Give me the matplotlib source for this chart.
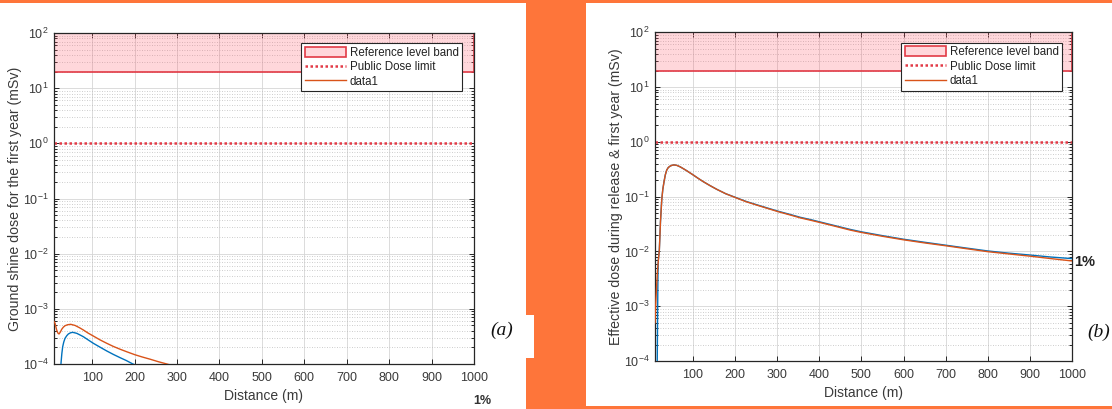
import matplotlib
matplotlib.use("Agg")
import matplotlib.pyplot as plt
from matplotlib.patches import Rectangle
from matplotlib.ticker import FixedLocator, NullFormatter, LogFormatterSciNotation
import numpy as np

plt.rcParams['font.family'] = ['Liberation Sans', 'DejaVu Sans']
plt.rcParams['mathtext.fontset'] = 'custom'
plt.rcParams['mathtext.rm'] = 'Liberation Sans'
plt.rcParams['mathtext.it'] = 'Liberation Sans:italic'
plt.rcParams['mathtext.bf'] = 'Liberation Sans:bold'

# ---------------- data ----------------
x_ticks = [100, 200, 300, 400, 500, 600, 700, 800, 900, 1000]
y_ticks = [1e-4, 1e-3, 1e-2, 1e-1, 1e0, 1e1, 1e2]
x_limits = (10, 1000)
y_limits = (1e-4, 1e2)

band_low, band_high = 20, 100
public_dose_limit = 1.0

# panel (a): ground shine dose
a_orange_x = [10, 12.4, 16.3, 19, 21.8, 25, 28.2, 32, 36, 42, 49.4, 59.6, 70, 79.3, 90,
              102.8, 118, 134.5, 150, 166, 183, 201, 218, 236.8, 256, 276, 300]
a_orange_y = [5.9e-4, 5.47e-4, 4.13e-4, 3.65e-4, 3.5e-4, 3.8e-4, 4.26e-4, 4.65e-4, 4.94e-4,
              5.15e-4, 5.24e-4, 5.0e-4, 4.55e-4, 4.13e-4, 3.65e-4, 3.21e-4, 2.75e-4,
              2.37e-4, 2.08e-4, 1.85e-4, 1.65e-4, 1.47e-4, 1.34e-4, 1.22e-4, 1.1e-4,
              1.0e-4, 8.8e-5]
a_blue_x = [25, 26.5, 28.5, 30.5, 33, 36, 40, 43.8, 49, 54, 63.6, 71, 79.3, 90, 102.8,
            118, 134.5, 150, 166, 180, 196, 212]
a_blue_y = [4e-5, 1.03e-4, 1.55e-4, 2.06e-4, 2.5e-4, 2.92e-4, 3.25e-4, 3.5e-4, 3.68e-4,
            3.75e-4, 3.6e-4, 3.37e-4, 3.12e-4, 2.75e-4, 2.37e-4, 2.03e-4, 1.72e-4,
            1.49e-4, 1.3e-4, 1.16e-4, 1.0e-4, 9.0e-5]

# panel (b): effective dose during release & first year
b_orange_x = [10, 12, 14, 16, 18, 20.3, 23, 26, 28.5, 31.4, 34.5, 37.8, 41.5, 45.7, 50,
              55, 62, 69.5, 77, 85.4, 93, 101, 112, 125, 140, 156.7, 178, 202.6, 226,
              251.8, 277, 303, 330, 354.8, 380, 404, 440, 473.7, 500, 550, 600, 650,
              700, 750, 800, 850, 900, 950, 1000]
b_orange_y = [5e-4, 1.2e-3, 2.5e-3, 4.5e-3, 7e-3, 0.0106, 0.035, 0.087, 0.135, 0.187,
              0.25, 0.305, 0.34, 0.36, 0.373, 0.38, 0.372, 0.351, 0.325, 0.297, 0.272,
              0.248, 0.217, 0.187, 0.16, 0.136, 0.113, 0.095, 0.081, 0.070, 0.061, 0.053,
              0.0465, 0.041, 0.037, 0.0334, 0.0285, 0.0245, 0.0222, 0.0189, 0.0163,
              0.0143, 0.0127, 0.0112, 0.0099, 0.0090, 0.0082, 0.0074, 0.0067]
b_blue_x = [15, 17, 18, 20.3, 23, 26, 28.5, 31.4, 34.5, 37.8, 41.5, 45.7, 50,
            55, 62, 69.5, 77, 85.4, 93, 101, 112, 125, 140, 156.7, 178, 202.6, 226,
            251.8, 277, 303, 330, 354.8, 380, 404, 440, 473.7, 500, 550, 600, 650,
            700, 750, 800, 850, 900, 950, 1000]
b_blue_y = [5e-5, 4e-3, 7e-3, 0.0106, 0.035, 0.087, 0.135, 0.187,
            0.25, 0.305, 0.34, 0.36, 0.373, 0.38, 0.372, 0.351, 0.325, 0.297, 0.272,
            0.248, 0.217, 0.187, 0.16, 0.136, 0.113, 0.096, 0.082, 0.071, 0.062, 0.054,
            0.0475, 0.042, 0.038, 0.0342, 0.0292, 0.0252, 0.0228, 0.0194, 0.0167,
            0.0147, 0.0130, 0.0115, 0.0102, 0.0093, 0.0086, 0.0079, 0.0074]

ylabels = ["Ground shine dose for the first year (mSv)",
           "Effective dose during release & first year (mSv)"]
xlabel = "Distance (m)"
legend_labels = ["Reference level band", "Public Dose limit", "data1"]
panel_tags = ["(a)", "(b)"]
pct_label = "1%"

# ---------------- styling ----------------
ORANGE_BG = '#fe753a'
C_ORANGE = '#D95319'
C_BLUE = '#0072BD'
C_RED = '#E23A46'
TXT = '#3a3a3a'

W, H = 1112, 409
fig = plt.figure(figsize=(W / 100, H / 100), dpi=100, facecolor=ORANGE_BG)

def px_rect(x0, y0, x1, y1):
    return Rectangle((x0 / W, 1 - y1 / H), (x1 - x0) / W, (y1 - y0) / H,
                     transform=fig.transFigure, facecolor='white', edgecolor='none',
                     zorder=-10)

fig.patches.append(px_rect(0, 3, 526, 409))
fig.patches.append(px_rect(526, 315, 534, 358))
fig.patches.append(px_rect(586, 3, 1112, 406))

def px_axes(x0, y0, x1, y1):
    return fig.add_axes([x0 / W, 1 - y1 / H, (x1 - x0) / W, (y1 - y0) / H])

axA = px_axes(54, 33, 474, 364)
axB = px_axes(655, 32.3, 1072, 361)

minor_y = [m * d for d in y_ticks[:-1] for m in range(2, 10)]

def style(ax, ylabel):
    ax.set_yscale('log')
    ax.set_xlim(*x_limits)
    ax.set_ylim(*y_limits)
    ax.set_facecolor('white')
    ax.set_axisbelow(True)
    band = ax.axhspan(band_low, band_high, facecolor=(1.0, 0.35, 0.42, 0.24),
                      edgecolor=C_RED, linewidth=1.2, label=legend_labels[0], zorder=1)
    pdl, = ax.plot(list(x_limits), [public_dose_limit, public_dose_limit],
                   color=C_RED, linestyle=(0, (1, 1)), linewidth=1.8,
                   label=legend_labels[1], zorder=2)
    ax.xaxis.set_major_locator(FixedLocator(x_ticks))
    ax.yaxis.set_major_locator(FixedLocator(y_ticks))
    ax.yaxis.set_major_formatter(LogFormatterSciNotation())
    ax.yaxis.set_minor_locator(FixedLocator(minor_y))
    ax.yaxis.set_minor_formatter(NullFormatter())
    ax.grid(True, which='major', color='#d6d6d6', linewidth=0.6, linestyle='-')
    ax.grid(True, which='minor', axis='y', color='#bdbdbd', linewidth=0.6,
            linestyle=(0, (1, 2)))
    ax.tick_params(which='both', direction='in', top=True, right=True,
                   colors='#262626', labelcolor=TXT, labelsize=9, width=0.7)
    ax.tick_params(which='major', length=3.5)
    ax.tick_params(axis='x', which='major', pad=5.5)
    ax.tick_params(axis='y', which='major', pad=4)
    ax.tick_params(which='minor', length=2)
    for s in ax.spines.values():
        s.set_color('#262626')
        s.set_linewidth(0.9)
    ax.set_xlabel(xlabel, fontsize=10, color=TXT, labelpad=4)
    ax.set_ylabel(ylabel, fontsize=10.2, color=TXT, labelpad=0.5)
    return band, pdl

bA, pA = style(axA, ylabels[0])
axA.plot(a_blue_x, a_blue_y, color=C_BLUE, linewidth=1.0, zorder=3)
lA, = axA.plot(a_orange_x, a_orange_y, color=C_ORANGE, linewidth=1.0, zorder=3,
               label=legend_labels[2])

bB, pB = style(axB, ylabels[1])
axB.plot(b_blue_x, b_blue_y, color=C_BLUE, linewidth=1.0, zorder=3)
lB, = axB.plot(b_orange_x, b_orange_y, color=C_ORANGE, linewidth=1.0, zorder=3,
               label=legend_labels[2])

def make_legend(ax, handles, anchor):
    leg = ax.legend(handles=handles, loc='upper right', bbox_to_anchor=anchor,
                    borderaxespad=0, fontsize=8.3, handlelength=3.6, handleheight=1.0,
                    handletextpad=0.3, labelspacing=0.2, borderpad=0.3,
                    fancybox=False, framealpha=1, edgecolor='#262626')
    leg.get_frame().set_linewidth(0.8)
    for t in leg.get_texts():
        t.set_color('#222222')
    return leg

make_legend(axA, [bA, pA, lA], ((462 - 54) / 420, 1 - (43.3 - 33) / 331))
make_legend(axB, [bB, pB, lB], ((1062 - 655) / 417, 1 - (42.7 - 32.3) / 328.7))

fig.text(490 / W, 1 - 330 / H, panel_tags[0], fontsize=14, style='italic',
         family=['Liberation Serif', 'DejaVu Serif'], va='center', ha='left', color='#111111')
fig.text(1087 / W, 1 - 332 / H, panel_tags[1], fontsize=14, style='italic',
         family=['Liberation Serif', 'DejaVu Serif'], va='center', ha='left', color='#111111')
fig.text(473 / W, 1 - 401 / H, pct_label, fontsize=9, fontweight='bold',
         va='center', ha='left', color='#333333')
fig.text(1074 / W, 1 - 262 / H, pct_label, fontsize=10.5, fontweight='bold',
         va='center', ha='left', color='#222222')

fig.savefig('out.png', dpi=100, facecolor=fig.get_facecolor())
